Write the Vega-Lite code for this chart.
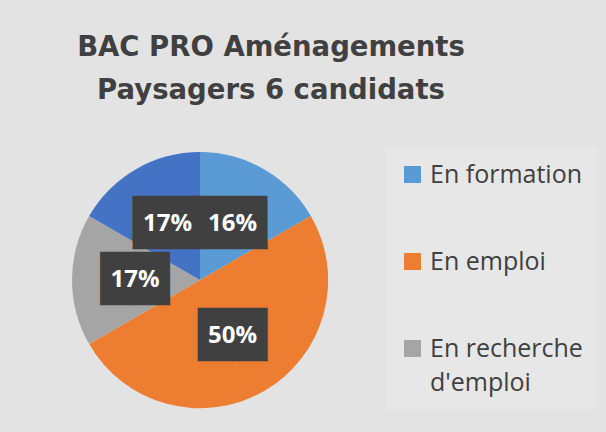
{
  "$schema": "https://vega.github.io/schema/vega-lite/v6.json",
  "width": 400,
  "height": 256,
  "autosize": {"type": "none"},
  "padding": {"left": 0, "top": 152, "right": 206, "bottom": 24},
  "background": "#e3e3e3",
  "title": {
    "text": ["BAC PRO Aménagements", "Paysagers 6 candidats"],
    "font": "DejaVu Sans",
    "fontSize": 27.5,
    "fontWeight": "bold",
    "color": "#404040",
    "anchor": "middle",
    "frame": "group",
    "dx": 71,
    "lineHeight": 43,
    "offset": 44
  },
  "config": {"view": {"stroke": null}},
  "data": {
    "values": [
      {"categorie": "En formation", "nb": 1, "rang": 1, "label": "16%"},
      {"categorie": "En emploi", "nb": 3, "rang": 2, "label": "50%"},
      {"categorie": "En recherche d'emploi", "nb": 1, "rang": 3, "label": "17%"},
      {"categorie": "Autre", "nb": 1, "rang": 4, "label": "17%"}
    ]
  },
  "encoding": {
    "theta": {"field": "nb", "type": "quantitative", "stack": true},
    "order": {"field": "rang", "type": "quantitative"},
    "detail": {"field": "categorie", "type": "nominal"}
  },
  "layer": [
    {
      "mark": {"type": "arc", "outerRadius": 128},
      "encoding": {
        "color": {
          "field": "categorie",
          "type": "nominal",
          "scale": {
            "domain": ["En formation", "En emploi", "En recherche d'emploi", "Autre"],
            "range": ["#5B9BD5", "#ED7D31", "#A5A5A5", "#4472C4"]
          },
          "legend": {
            "values": ["En formation", "En emploi", "En recherche d'emploi"],
            "orient": "none",
            "legendX": 386,
            "legendY": -4,
            "title": null,
            "symbolType": "square",
            "symbolSize": 289,
            "symbolStrokeWidth": 0,
            "labelFont": "Open Sans",
            "labelFontSize": 25,
            "labelColor": "#404040",
            "labelOffset": 5,
            "labelLimit": 0,
            "labelBaseline": "alphabetic",
            "rowPadding": 61,
            "padding": 14,
            "fillColor": "#e7e7e7",
            "labelExpr": "indexof(datum.label, 'recherche') >= 0 ? ['En recherche', \"d'emploi\"] : datum.label",
            "encode": {
              "labels": {"update": {"dy": {"value": 8.5}, "lineHeight": {"value": 34}}}
            }
          }
        }
      }
    },
    {
      "mark": {"type": "text", "radius": 65, "text": "██", "font": "DejaVu Sans", "fontSize": 45, "color": "#404040", "baseline": "middle", "align": "center"}
    },
    {
      "mark": {"type": "text", "radius": 65, "font": "Open Sans", "fontSize": 24, "fontWeight": "bold", "color": "#ffffff", "baseline": "middle", "align": "center"},
      "encoding": {"text": {"field": "label", "type": "nominal"}}
    }
  ]
}
